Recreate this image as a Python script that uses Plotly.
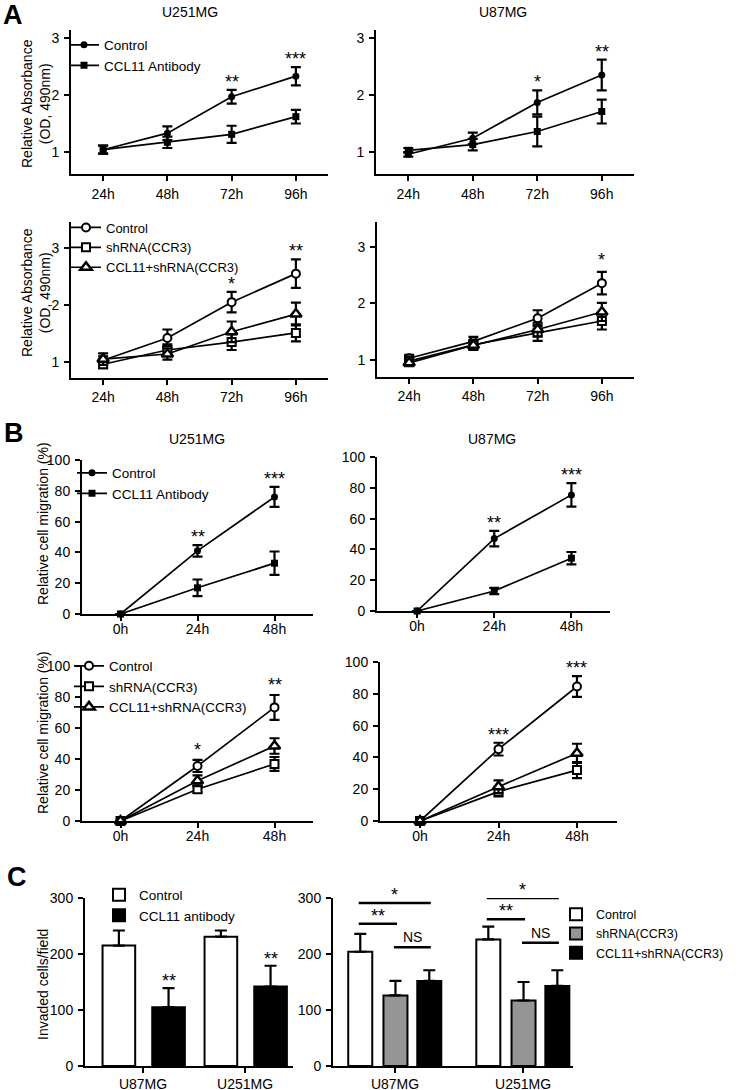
import plotly.graph_objects as go

W, H = 743, 1090
FONT = "Arial, 'Liberation Sans', Helvetica, sans-serif"

# ---------------- data ----------------
hours_A = ["24h", "48h", "72h", "96h"]
hours_B = ["0h", "24h", "48h"]
cell_lines = ["U87MG", "U251MG"]

# Panel A (top) - CCL11 antibody
A_u251_ctrl = [1.04, 1.33, 1.97, 2.33]
A_u251_ctrl_err = [0.07, 0.12, 0.12, 0.16]
A_u251_ab = [1.04, 1.17, 1.31, 1.62]
A_u251_ab_err = [0.07, 0.10, 0.15, 0.12]
A_u251_stars = ["", "", "**", "***"]

A_u87_ctrl = [0.96, 1.24, 1.87, 2.35]
A_u87_ctrl_err = [0.04, 0.10, 0.21, 0.27]
A_u87_ab = [1.03, 1.13, 1.36, 1.71]
A_u87_ab_err = [0.04, 0.10, 0.26, 0.21]
A_u87_stars = ["", "", "*", "**"]

# Panel A (bottom) - shRNA(CCR3)
A2_u251_ctrl = [1.03, 1.42, 2.05, 2.55]
A2_u251_ctrl_err = [0.07, 0.15, 0.18, 0.25]
A2_u251_sh = [0.96, 1.21, 1.35, 1.51]
A2_u251_sh_err = [0.07, 0.10, 0.14, 0.15]
A2_u251_cs = [1.05, 1.14, 1.53, 1.84]
A2_u251_cs_err = [0.10, 0.10, 0.18, 0.20]
A2_u251_stars = ["", "", "*", "**"]

A2_u87_ctrl = [1.03, 1.33, 1.74, 2.36]
A2_u87_ctrl_err = [0.06, 0.08, 0.14, 0.20]
A2_u87_sh = [0.98, 1.27, 1.48, 1.69]
A2_u87_sh_err = [0.08, 0.08, 0.14, 0.15]
A2_u87_cs = [0.95, 1.26, 1.54, 1.85]
A2_u87_cs_err = [0.06, 0.08, 0.12, 0.16]
A2_u87_stars = ["", "", "", "*"]

# Panel B (top) - migration, CCL11 antibody
B_u251_ctrl = [0, 41, 76]
B_u251_ctrl_err = [0, 3.7, 6.5]
B_u251_ab = [0, 17, 33]
B_u251_ab_err = [0, 5.4, 7.6]
B_u251_stars = ["", "**", "***"]

B_u87_ctrl = [0, 47, 75.4]
B_u87_ctrl_err = [0, 5, 7.6]
B_u87_ab = [0, 13, 34.3]
B_u87_ab_err = [0, 2, 4]
B_u87_stars = ["", "**", "***"]

# Panel B (bottom) - migration, shRNA(CCR3)
B2_u251_ctrl = [0, 35.5, 73.3]
B2_u251_ctrl_err = [0, 3.9, 8]
B2_u251_sh = [0, 20.5, 36.8]
B2_u251_sh_err = [0, 2, 4.5]
B2_u251_cs = [0, 26, 48.4]
B2_u251_cs_err = [0, 3.5, 5]
B2_u251_stars = ["", "*", "**"]

B2_u87_ctrl = [0, 45.2, 84.6]
B2_u87_ctrl_err = [0, 4, 6.5]
B2_u87_sh = [0, 18.5, 32]
B2_u87_sh_err = [0, 3, 5]
B2_u87_cs = [0, 21.6, 42.6]
B2_u87_cs_err = [0, 4, 6]
B2_u87_stars = ["", "***", "***"]

# Panel C - invasion
C_ctrl = [215, 231]
C_ctrl_err = [27, 11]
C_ab = [105, 142]
C_ab_err = [34, 37]
C_ab_stars = ["**", "**"]

C2_ctrl = [204, 226]
C2_ctrl_err = [32, 23]
C2_sh = [126, 117]
C2_sh_err = [26, 33]
C2_cs = [152, 143]
C2_cs_err = [19, 28]

# pairwise comparisons in C right panel
comp_group = [0, 0, 0, 1, 1, 1]
comp_from = [0, 0, 1, 0, 0, 1]
comp_to = [2, 1, 2, 2, 1, 2]
comp_level = [291, 254, 212, 300, 262, 220]
comp_label = ["*", "**", "NS", "*", "**", "NS"]

# ---------------- layout helpers (page pixel -> paper) ----------------
def fx(p):
    return p / W


def fy(p):
    return 1 - p / H


panels = {
    # n: (x px domain, y px domain, xrange, yrange, tickvals, x-label standoff)
    1: ((71, 328), (30, 174), [-0.5, 3.5], [0.614, 3.14], [1, 2, 3], 1),
    2: ((376, 634), (30, 174), [-0.5, 3.5], [0.614, 3.14], [1, 2, 3], 1),
    3: ((71, 328), (222, 378), [-0.5, 3.5], [0.719, 3.456], [1, 2, 3], 0),
    4: ((377, 634), (222, 377), [-0.5, 3.5], [0.699, 3.442], [1, 2, 3], 0),
    5: ((82, 313), (460, 614), [-0.5, 2.5], [0, 100], [0, 20, 40, 60, 80, 100], -4),
    6: ((377, 610), (457, 611), [-0.52, 2.5], [0, 100], [0, 20, 40, 60, 80, 100], -4),
    7: ((82, 313), (666, 821), [-0.5, 2.5], [0, 100], [0, 20, 40, 60, 80, 100], -4),
    8: ((380, 617), (662, 821), [-0.51, 2.51], [0, 100], [0, 20, 40, 60, 80, 100], -4),
    9: ((85, 293), (898, 1066), [-0.569, 1.47], [0, 300], [0, 100, 200, 300], -1),
    10: ((333, 573), (898, 1066), [-0.484, 1.39], [0, 300], [0, 100, 200, 300], -1),
}

layout = dict(
    width=W, height=H, margin=dict(l=0, r=0, t=0, b=0, pad=0, autoexpand=False),
    paper_bgcolor="white", plot_bgcolor="white",
    font=dict(family=FONT, size=14, color="black"),
    barmode="overlay", showlegend=True,
)

axis_common = dict(
    showline=True, linecolor="black", linewidth=2, ticks="outside",
    ticklen=5, tickwidth=2, tickcolor="black", showgrid=False,
    zeroline=False, tickfont=dict(family=FONT, size=14, color="black"),
    fixedrange=True, automargin=False,
)

for n, (xd, yd, xr, yr, tv, so) in panels.items():
    xs = "" if n == 1 else str(n)
    layout["xaxis" + xs] = dict(
        axis_common, domain=[fx(xd[0]), fx(xd[1])], range=xr,
        type="category", anchor="y" + xs, ticklabelstandoff=so,
    )
    layout["yaxis" + xs] = dict(
        axis_common, domain=[fy(yd[1]), fy(yd[0])], range=yr,
        anchor="x" + xs, tickvals=tv, ticklabelstandoff=2,
    )

fig = go.Figure()

STYLE = {
    "ctrl_f": dict(symbol="circle", size=7, color="black", line=dict(color="black", width=0)),
    "ab_f": dict(symbol="square", size=7, color="black", line=dict(color="black", width=0)),
    "ctrl_o": dict(symbol="circle", size=8, color="white", line=dict(color="black", width=2)),
    "sh_o": dict(symbol="square", size=8, color="white", line=dict(color="black", width=2)),
    "cs_o": dict(symbol="triangle-up", size=10, color="white", line=dict(color="black", width=2.5)),
}


def add_line(n, x, y, err, style, name, legend, show):
    s = "" if n == 1 else str(n)
    fig.add_trace(go.Scatter(
        x=x, y=y, mode="lines+markers", name=name,
        xaxis="x" + s, yaxis="y" + s,
        legend=legend, showlegend=show, legendgroup=f"{legend}-{name}",
        line=dict(color="black", width=1.7),
        marker=STYLE[style],
        error_y=dict(type="data", array=err, color="black", thickness=2.2, width=5),
        cliponaxis=False,
    ))


annotations = []
shapes = []


def add_stars(n, stars, series, size=18, yshift=-4):
    s = "" if n == 1 else str(n)
    for i, st in enumerate(stars):
        if not st:
            continue
        top = max(m[i] + e[i] for m, e in series)
        annotations.append(dict(
            x=i, y=top, xref="x" + s, yref="y" + s, text=st, showarrow=False,
            yanchor="bottom", xanchor="center", yshift=yshift,
            font=dict(family=FONT, size=size, color="black"),
        ))


# A top
add_line(1, hours_A, A_u251_ctrl, A_u251_ctrl_err, "ctrl_f", "Control", "legend", True)
add_line(1, hours_A, A_u251_ab, A_u251_ab_err, "ab_f", "CCL11 Antibody", "legend", True)
add_stars(1, A_u251_stars, [(A_u251_ctrl, A_u251_ctrl_err), (A_u251_ab, A_u251_ab_err)])
add_line(2, hours_A, A_u87_ctrl, A_u87_ctrl_err, "ctrl_f", "Control", "legend", False)
add_line(2, hours_A, A_u87_ab, A_u87_ab_err, "ab_f", "CCL11 Antibody", "legend", False)
add_stars(2, A_u87_stars, [(A_u87_ctrl, A_u87_ctrl_err), (A_u87_ab, A_u87_ab_err)])

# A bottom
add_line(3, hours_A, A2_u251_ctrl, A2_u251_ctrl_err, "ctrl_o", "Control", "legend2", True)
add_line(3, hours_A, A2_u251_sh, A2_u251_sh_err, "sh_o", "shRNA(CCR3)", "legend2", True)
add_line(3, hours_A, A2_u251_cs, A2_u251_cs_err, "cs_o", "CCL11+shRNA(CCR3)", "legend2", True)
add_stars(3, A2_u251_stars, [(A2_u251_ctrl, A2_u251_ctrl_err)])
add_line(4, hours_A, A2_u87_ctrl, A2_u87_ctrl_err, "ctrl_o", "Control", "legend2", False)
add_line(4, hours_A, A2_u87_sh, A2_u87_sh_err, "sh_o", "shRNA(CCR3)", "legend2", False)
add_line(4, hours_A, A2_u87_cs, A2_u87_cs_err, "cs_o", "CCL11+shRNA(CCR3)", "legend2", False)
add_stars(4, A2_u87_stars, [(A2_u87_ctrl, A2_u87_ctrl_err)], yshift=0)

# B top
add_line(5, hours_B, B_u251_ctrl, B_u251_ctrl_err, "ctrl_f", "Control", "legend3", True)
add_line(5, hours_B, B_u251_ab, B_u251_ab_err, "ab_f", "CCL11 Antibody", "legend3", True)
add_stars(5, B_u251_stars, [(B_u251_ctrl, B_u251_ctrl_err)])
add_line(6, hours_B, B_u87_ctrl, B_u87_ctrl_err, "ctrl_f", "Control", "legend3", False)
add_line(6, hours_B, B_u87_ab, B_u87_ab_err, "ab_f", "CCL11 Antibody", "legend3", False)
add_stars(6, B_u87_stars, [(B_u87_ctrl, B_u87_ctrl_err)])

# B bottom
add_line(7, hours_B, B2_u251_ctrl, B2_u251_ctrl_err, "ctrl_o", "Control", "legend4", True)
add_line(7, hours_B, B2_u251_sh, B2_u251_sh_err, "sh_o", "shRNA(CCR3)", "legend4", True)
add_line(7, hours_B, B2_u251_cs, B2_u251_cs_err, "cs_o", "CCL11+shRNA(CCR3)", "legend4", True)
add_stars(7, B2_u251_stars, [(B2_u251_ctrl, B2_u251_ctrl_err)], yshift=-2)
add_line(8, hours_B, B2_u87_ctrl, B2_u87_ctrl_err, "ctrl_o", "Control", "legend4", False)
add_line(8, hours_B, B2_u87_sh, B2_u87_sh_err, "sh_o", "shRNA(CCR3)", "legend4", False)
add_line(8, hours_B, B2_u87_cs, B2_u87_cs_err, "cs_o", "CCL11+shRNA(CCR3)", "legend4", False)
add_stars(8, B2_u87_stars, [(B2_u87_ctrl, B2_u87_ctrl_err)])


# C bars
def add_bar(n, y, err, color, name, legend, width, offset):
    s = "" if n == 1 else str(n)
    fig.add_trace(go.Bar(
        x=cell_lines, y=y, name=name, xaxis="x" + s, yaxis="y" + s,
        legend=legend, legendgroup=f"{legend}-{name}",
        width=width, offset=offset,
        marker=dict(color=color, line=dict(color="black", width=2)),
        error_y=dict(type="data", symmetric=False, array=err,
                     arrayminus=[0] * len(err), color="black", thickness=2.2, width=6),
    ))


C1_width = 0.32
C1_offsets = [-0.397, 0.09]
add_bar(9, C_ctrl, C_ctrl_err, "white", "Control", "legend5", C1_width, C1_offsets[0])
add_bar(9, C_ab, C_ab_err, "black", "CCL11 antibody", "legend5", C1_width, C1_offsets[1])
for i, st in enumerate(C_ab_stars):
    annotations.append(dict(
        x=i + C1_offsets[1] + C1_width / 2, y=C_ab[i] + C_ab_err[i], xref="x9", yref="y9",
        text=st, showarrow=False, yanchor="bottom", yshift=-5,
        font=dict(family=FONT, size=18, color="black"),
    ))

C2_width = 0.1875
C2_offsets = [-0.365, -0.09, 0.174]
add_bar(10, C2_ctrl, C2_ctrl_err, "white", "Control", "legend6", C2_width, C2_offsets[0])
add_bar(10, C2_sh, C2_sh_err, "#959595", "shRNA(CCR3)", "legend6", C2_width, C2_offsets[1])
add_bar(10, C2_cs, C2_cs_err, "black", "CCL11+shRNA(CCR3)", "legend6", C2_width, C2_offsets[2])

for g, a, b, lv, lab in zip(comp_group, comp_from, comp_to, comp_level, comp_label):
    xa = g + C2_offsets[a] + C2_width / 2 - 0.012
    xb = g + C2_offsets[b] + C2_width / 2 + 0.012
    shapes.append(dict(type="line", xref="x10", yref="y10", x0=xa, x1=xb, y0=lv, y1=lv,
                       line=dict(color="black", width=2.5)))
    is_ns = lab == "NS"
    annotations.append(dict(
        x=(xa + xb) / 2, y=lv, xref="x10", yref="y10", text=lab, showarrow=False,
        yanchor="bottom", yshift=(0 if is_ns else -4),
        font=dict(family=FONT, size=(14 if is_ns else 18), color="black"),
    ))

# ---------------- legends (symbol centre x, first entry centre y) ----------------
def legend_at(sym_x, first_center_y, size=13.5):
    return dict(
        x=fx(sym_x - 20), y=fy(first_center_y - 15.5), xanchor="left", yanchor="top",
        bgcolor="rgba(0,0,0,0)", borderwidth=0, tracegroupgap=0,
        font=dict(family=FONT, size=size, color="black"),
    )


layout["legend"] = legend_at(84, 45)
layout["legend2"] = legend_at(86, 228, 13)
layout["legend3"] = legend_at(92, 473)
layout["legend4"] = legend_at(89, 666)
layout["legend5"] = legend_at(119, 895)
layout["legend6"] = legend_at(576, 915, 12.5)

# ---------------- text labels ----------------
def text_at(x, y, t, size=14, bold=False, angle=0):
    annotations.append(dict(
        x=fx(x), y=fy(y), xref="paper", yref="paper", text=(f"<b>{t}</b>" if bold else t),
        showarrow=False, xanchor="center", yanchor="middle", textangle=angle,
        font=dict(family=FONT, size=size, color="black"),
    ))


text_at(13, 15, "A", 27, True)
text_at(14, 433, "B", 27, True)
text_at(17, 877, "C", 27, True)

text_at(190, 12, "U251MG")
text_at(503, 12, "U87MG")
text_at(197, 439, "U251MG")
text_at(492, 439, "U87MG")

text_at(36, 104, "Relative Absorbance<br>(OD, 490nm)", angle=-90)
text_at(36, 293, "Relative Absorbance<br>(OD, 490nm)", angle=-90)
text_at(43, 524, "Relative cell migration (%)", angle=-90)
text_at(43, 733, "Relative cell migration (%)", angle=-90)
text_at(43, 985, "Invaded cells/field", angle=-90)

layout["annotations"] = annotations
layout["shapes"] = shapes
fig.update_layout(**layout)

fig.write_html(
    "out.html",
    config={"displayModeBar": False},
    post_script=(
        "document.body.style.margin='0';"
        "document.body.style.padding='0';"
        "document.documentElement.style.overflow='hidden';"
    ),
)
